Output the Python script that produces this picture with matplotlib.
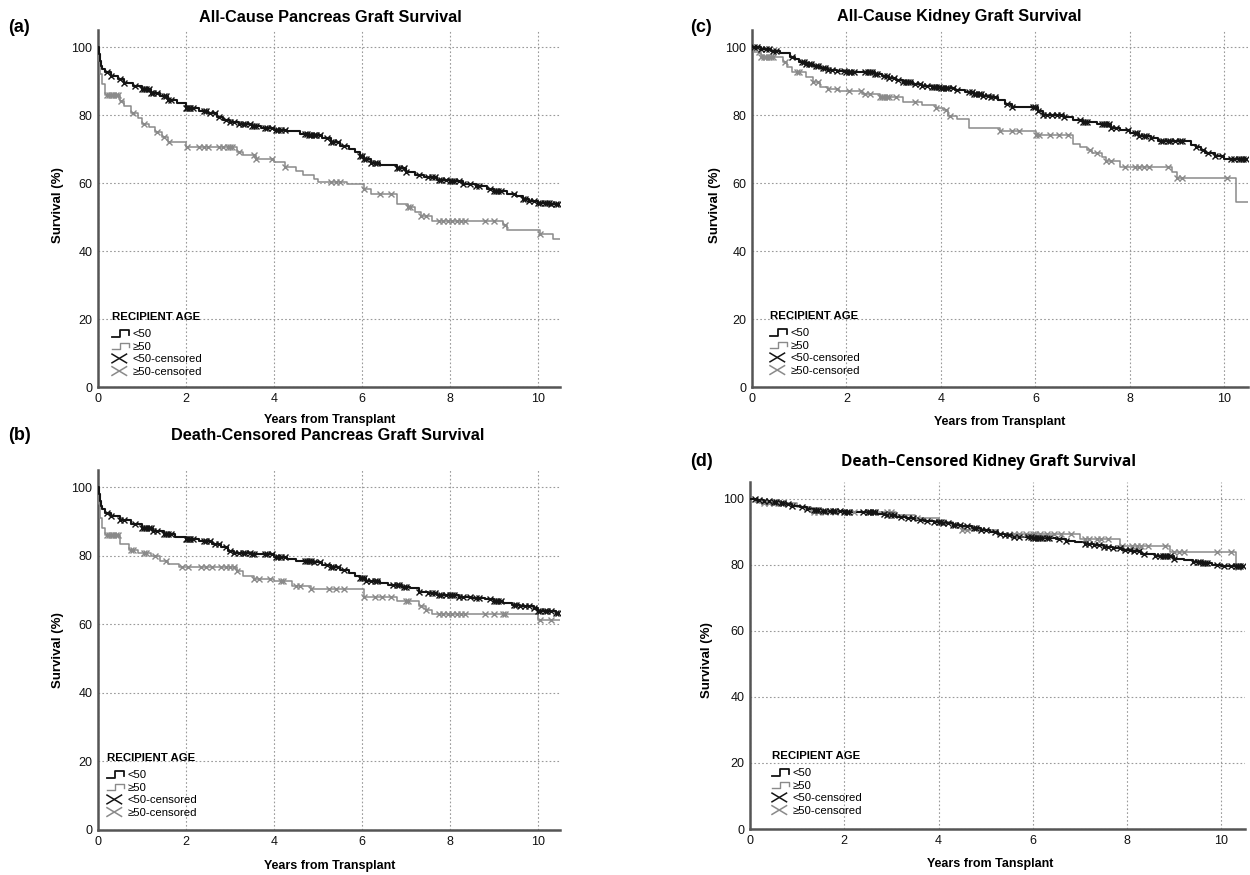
import numpy as np
import matplotlib
matplotlib.use('Agg')
import matplotlib.pyplot as plt
from matplotlib.lines import Line2D
from matplotlib.legend_handler import HandlerBase

plt.rcParams['font.family'] = ['Liberation Sans', 'DejaVu Sans']

# ---------------- data ----------------
# (a) All-cause pancreas graft survival
a_lt50_t = [0, 0.02, 0.04, 0.07, 0.1, 0.15, 0.3, 0.45, 0.6, 0.8, 1.0, 1.2, 1.4, 1.6, 1.8, 2.0, 2.3, 2.5, 2.7,
            2.85, 3.0, 3.2, 3.5, 3.7, 4.0, 4.3, 4.6, 4.8, 5.1, 5.3, 5.5, 5.7, 5.85, 5.95, 6.05, 6.2, 6.4, 6.8,
            7.0, 7.2, 7.4, 7.7, 8.0, 8.3, 8.6, 8.85, 9.0, 9.3, 9.5, 9.65, 9.8, 10.0, 10.3]
a_lt50_s = [100, 98, 96, 94.5, 93.5, 92.5, 91.5, 90.5, 89.5, 88.5, 87.5, 86.5, 85.5, 84.5, 83.5, 82, 81.2, 80.5,
            79.5, 78.5, 78, 77.3, 76.8, 76.3, 75.7, 75.2, 74.5, 74.2, 73.2, 72.2, 71, 70, 69, 68, 67, 66, 65.3,
            64.3, 63.3, 62.3, 61.7, 61, 60.5, 59.8, 59.2, 58.2, 57.6, 56.8, 56.2, 55.3, 54.8, 54.2, 53.7]
a_ge50_t = [0, 0.02, 0.05, 0.1, 0.15, 0.5, 0.6, 0.75, 0.9, 1.0, 1.15, 1.3, 1.45, 1.6, 2.0, 3.15, 3.3, 3.6, 4.0,
            4.25, 4.5, 4.65, 4.9, 5.0, 5.65, 6.05, 6.2, 6.8, 7.05, 7.2, 7.35, 7.6, 9.2, 9.3, 10.05, 10.35]
a_ge50_s = [100, 96, 92, 89, 86, 84, 82.5, 80.5, 79, 77.5, 76.5, 75, 73.5, 72.2, 70.6, 69.2, 68.2, 67.2, 66.2,
            64.8, 63.5, 62.4, 61.3, 60.4, 59.6, 58.3, 56.9, 53.8, 52.8, 51.5, 50.2, 48.8, 47.5, 46.1, 44.9, 43.5]
a_lt50_cens = [0.2, 0.3, 0.5, 0.6, 0.85, 1.0, 1.05, 1.1, 1.15, 1.2, 1.25, 1.35, 1.5, 1.55, 1.6, 1.65, 2.0, 2.03,
               2.06, 2.1, 2.15, 2.4, 2.45, 2.55, 2.65, 2.75, 2.9, 3.0, 3.1, 3.2, 3.3, 3.35, 3.45, 3.5, 3.55, 3.6,
               3.8, 3.85, 3.95, 4.05, 4.1, 4.15, 4.25, 4.7, 4.75, 4.8, 4.85, 4.9, 4.95, 5.05, 5.2, 5.3, 5.35,
               5.45, 5.6, 5.95, 6.0, 6.05, 6.1, 6.2, 6.3, 6.35, 6.8, 6.85, 6.95, 7.0, 7.3, 7.5, 7.6, 7.65, 7.75,
               7.8, 7.9, 8.0, 8.05, 8.1, 8.2, 8.3, 8.45, 8.6, 8.65, 8.9, 9.0, 9.05, 9.1, 9.15, 9.45, 9.65, 9.7,
               9.8, 9.9, 10.0, 10.05, 10.15, 10.2, 10.25, 10.3, 10.4, 10.45]
a_ge50_cens = [0.2, 0.25, 0.3, 0.35, 0.4, 0.45, 0.52, 0.8, 1.05, 1.35, 1.5, 1.62, 2.02, 2.3, 2.4, 2.5, 2.75, 2.85,
               2.95, 3.0, 3.05, 3.2, 3.55, 3.6, 3.95, 4.25, 5.3, 5.4, 5.5, 6.05, 6.4, 6.65, 7.05, 7.1, 7.35,
               7.45, 7.75, 7.85, 7.95, 8.05, 8.15, 8.25, 8.35, 8.8, 9.0, 9.25, 10.05]

# (b) Death-censored pancreas graft survival
b_lt50_t = [0, 0.02, 0.04, 0.07, 0.1, 0.15, 0.3, 0.5, 0.75, 1.0, 1.25, 1.5, 1.75, 2.0, 2.3, 2.6, 2.8, 2.95, 3.1,
            3.5, 4.0, 4.3, 4.5, 4.9, 5.1, 5.3, 5.5, 5.7, 5.85, 5.95, 6.1, 6.4, 6.6, 6.9, 7.1, 7.3, 7.5, 7.7,
            8.2, 8.5, 8.8, 9.0, 9.2, 9.4, 9.6, 9.9, 10.0, 10.4]
b_lt50_s = [100, 98, 96, 94.5, 93.5, 92.5, 91.5, 90.5, 89.3, 88, 87.2, 86.4, 85.5, 84.8, 84.2, 83.5, 82.5, 81.5,
            80.8, 80.5, 79.6, 79.0, 78.5, 78.2, 77.3, 76.6, 75.8, 75, 74.2, 73.5, 72.5, 72.0, 71.5, 71.0, 70.5,
            69.5, 69, 68.4, 68.0, 67.8, 67.4, 66.8, 66.1, 65.6, 65.2, 64.8, 64.0, 63.3]
b_ge50_t = [0, 0.02, 0.05, 0.1, 0.15, 0.5, 0.7, 0.9, 1.2, 1.4, 1.6, 1.85, 3.15, 3.3, 3.55, 4.0, 4.4, 4.85, 6.05,
            6.8, 7.3, 7.45, 7.6, 10.0]
b_ge50_s = [100, 95, 91, 88, 86.1, 83.4, 81.8, 80.8, 79.8, 78.4, 77.5, 76.7, 75.4, 74.0, 73.2, 72.5, 71.2, 70.2,
            68.1, 66.9, 65.4, 64.2, 62.9, 61.2]
b_lt50_cens = [0.2, 0.3, 0.5, 0.6, 0.85, 1.0, 1.05, 1.1, 1.15, 1.2, 1.25, 1.35, 1.5, 1.55, 1.6, 1.65, 2.0, 2.03,
               2.06, 2.1, 2.15, 2.4, 2.45, 2.55, 2.65, 2.75, 2.9, 3.0, 3.1, 3.2, 3.3, 3.35, 3.45, 3.5, 3.55, 3.8,
               3.85, 3.95, 4.05, 4.1, 4.15, 4.25, 4.7, 4.75, 4.8, 4.85, 4.9, 5.05, 5.2, 5.3, 5.35, 5.45, 5.6,
               5.95, 6.0, 6.05, 6.1, 6.2, 6.3, 6.35, 6.7, 6.8, 6.85, 6.95, 7.0, 7.3, 7.5, 7.6, 7.65, 7.75, 7.8,
               7.9, 8.0, 8.05, 8.1, 8.2, 8.3, 8.45, 8.6, 8.65, 8.9, 9.0, 9.05, 9.1, 9.15, 9.45, 9.5, 9.6, 9.7,
               9.8, 9.9, 10.0, 10.05, 10.15, 10.2, 10.3, 10.4, 10.45]
b_ge50_cens = [0.2, 0.25, 0.3, 0.35, 0.4, 0.45, 0.75, 0.8, 1.05, 1.1, 1.3, 1.55, 1.9, 2.05, 2.35, 2.45, 2.6, 2.8,
               2.9, 3.0, 3.1, 3.15, 3.55, 3.65, 3.9, 4.15, 4.2, 4.5, 4.6, 4.85, 5.25, 5.4, 5.6, 6.05, 6.3, 6.45,
               6.65, 7.0, 7.05, 7.35, 7.45, 7.75, 7.85, 7.95, 8.05, 8.15, 8.25, 8.35, 8.8, 9.0, 9.2, 9.25,
               10.05, 10.3]

# (c) All-cause kidney graft survival
c_lt50_t = [0, 0.2, 0.4, 0.6, 0.8, 0.9, 1.0, 1.15, 1.3, 1.45, 1.6, 1.8, 2.0, 2.6, 2.75, 2.9, 3.05, 3.2, 3.4,
            3.6, 3.8, 4.0, 4.3, 4.5, 4.7, 4.9, 5.05, 5.2, 5.35, 5.5, 6.05, 6.15, 6.6, 6.8, 7.0, 7.3, 7.6, 7.8,
            8.0, 8.2, 8.45, 8.6, 9.3, 9.4, 9.5, 9.6, 9.8, 10.0]
c_lt50_s = [100, 99.3, 98.8, 98.2, 97.2, 96.5, 95.6, 95.0, 94.3, 93.7, 93.1, 92.8, 92.5, 92.2, 91.6, 91.0, 90.4,
            89.8, 89.2, 88.6, 88.2, 87.9, 87.3, 86.8, 86.3, 85.7, 85.2, 84.3, 83.3, 82.4, 81.3, 79.9, 79.4,
            78.5, 78.0, 77.4, 76.3, 75.6, 74.7, 73.9, 73.2, 72.3, 71.3, 70.6, 69.6, 68.8, 67.8, 67.1]
c_ge50_t = [0, 0.05, 0.2, 0.65, 0.75, 0.85, 1.15, 1.3, 1.45, 1.6, 1.85, 2.33, 2.7, 3.2, 3.6, 3.9, 4.05, 4.15,
            4.35, 4.6, 5.24, 6.02, 6.8, 6.95, 7.1, 7.2, 7.4, 7.5, 7.8, 8.9, 9.0, 10.24]
c_ge50_s = [100, 98.5, 97.0, 95.5, 94.0, 92.5, 91.2, 89.8, 88.3, 87.6, 87.0, 86.2, 85.2, 83.9, 83.0, 82.0, 81.4,
            79.8, 78.8, 76.1, 75.4, 74.0, 71.5, 70.5, 69.8, 68.8, 67.5, 66.4, 64.6, 63.1, 61.4, 54.4]
c_lt50_cens = [0.05, 0.1, 0.2, 0.3, 0.35, 0.45, 0.5, 0.85, 1.05, 1.1, 1.15, 1.2, 1.25, 1.35, 1.4, 1.5, 1.55, 1.6,
               1.7, 1.8, 1.95, 2.0, 2.05, 2.1, 2.15, 2.4, 2.45, 2.5, 2.55, 2.6, 2.65, 2.8, 2.85, 2.9, 3.0, 3.1,
               3.2, 3.25, 3.3, 3.35, 3.45, 3.55, 3.6, 3.7, 3.8, 3.85, 3.9, 3.95, 4.0, 4.05, 4.1, 4.15, 4.25,
               4.35, 4.6, 4.65, 4.7, 4.75, 4.8, 4.85, 4.9, 5.0, 5.05, 5.15, 5.4, 5.5, 5.95, 6.0, 6.05, 6.15,
               6.25, 6.35, 6.45, 6.55, 6.6, 6.95, 7.0, 7.05, 7.1, 7.4, 7.45, 7.5, 7.55, 7.6, 7.7, 7.95, 8.1,
               8.15, 8.2, 8.3, 8.35, 8.45, 8.65, 8.7, 8.8, 8.85, 8.95, 9.05, 9.1, 9.4, 9.55, 9.65, 9.8, 9.95,
               10.15, 10.2, 10.3, 10.35, 10.4, 10.45]
c_ge50_cens = [0.15, 0.2, 0.25, 0.3, 0.35, 0.4, 0.45, 0.7, 0.95, 1.0, 1.3, 1.4, 1.6, 1.8, 2.05, 2.3, 2.4, 2.5,
               2.7, 2.75, 2.8, 2.85, 2.9, 3.05, 3.45, 3.9, 4.1, 4.2, 5.24, 5.5, 5.65, 6.02, 6.08, 6.3, 6.5,
               6.7, 7.15, 7.3, 7.5, 7.6, 7.9, 8.1, 8.2, 8.3, 8.4, 8.8, 9.0, 9.1, 10.05]

# (d) Death-censored kidney graft survival
d_lt50_t = [0, 0.15, 0.3, 0.45, 0.6, 0.75, 0.9, 1.05, 1.2, 1.35, 1.5, 2.0, 2.5, 2.7, 2.9, 3.1, 3.3, 3.5, 3.7,
            3.9, 4.1, 4.3, 4.5, 4.7, 4.9, 5.1, 5.25, 5.4, 5.55, 6.0, 6.5, 6.7, 6.9, 7.1, 7.3, 7.5, 7.7, 7.9,
            8.1, 8.3, 8.6, 9.0, 9.2, 9.4, 9.6, 9.8, 10.0]
d_lt50_s = [100, 99.5, 99.1, 98.9, 98.6, 98.3, 97.8, 97.3, 96.8, 96.5, 96.2, 96.0, 95.8, 95.4, 95.0, 94.5, 94.0,
            93.6, 93.3, 93.0, 92.6, 92.1, 91.6, 91.0, 90.5, 89.9, 89.4, 88.9, 88.4, 88.0, 87.7, 87.2, 86.8,
            86.3, 85.8, 85.4, 85.0, 84.5, 84.0, 83.3, 82.6, 81.8, 81.4, 80.9, 80.5, 80.0, 79.5]
d_ge50_t = [0, 0.1, 0.2, 1.0, 1.3, 3.1, 3.5, 4.0, 4.3, 4.5, 5.25, 7.0, 7.85, 8.9, 10.3]
d_ge50_s = [100, 99.0, 98.5, 97.5, 96.0, 95.0, 94.0, 93.0, 92.0, 90.4, 89.2, 87.9, 85.7, 83.7, 79.3]
d_lt50_cens = [0.1, 0.2, 0.3, 0.4, 0.5, 0.55, 0.65, 0.7, 0.8, 0.9, 1.1, 1.2, 1.35, 1.4, 1.45, 1.55, 1.6, 1.7,
               1.75, 1.8, 1.9, 2.0, 2.05, 2.1, 2.4, 2.5, 2.55, 2.6, 2.65, 2.85, 2.9, 3.0, 3.05, 3.2, 3.35, 3.45,
               3.6, 3.75, 3.9, 4.0, 4.05, 4.1, 4.2, 4.3, 4.35, 4.45, 4.6, 4.75, 4.8, 4.9, 5.0, 5.2, 5.3, 5.4,
               5.5, 5.6, 5.7, 5.9, 5.95, 6.0, 6.05, 6.1, 6.15, 6.2, 6.3, 6.35, 6.55, 6.7, 7.1, 7.2, 7.3, 7.4,
               7.5, 7.6, 7.7, 7.85, 7.95, 8.05, 8.15, 8.25, 8.35, 8.6, 8.7, 8.75, 8.8, 8.85, 8.9, 9.0, 9.4,
               9.5, 9.55, 9.6, 9.65, 9.7, 9.9, 10.05, 10.2, 10.3, 10.35, 10.4, 10.45]
d_ge50_cens = [0.3, 0.4, 0.5, 0.6, 0.7, 1.35, 1.45, 1.6, 1.8, 2.2, 2.5, 2.9, 3.0, 3.55, 4.1, 4.5, 4.6, 5.6, 5.7,
               5.85, 6.0, 6.05, 6.15, 6.3, 6.45, 6.6, 6.8, 7.1, 7.2, 7.35, 7.45, 7.6, 7.9, 8.1, 8.2, 8.3, 8.45,
               8.8, 9.0, 9.1, 9.2, 9.9, 10.2, 10.35]

panel_letters = ['(a)', '(b)', '(c)', '(d)']
panel_titles = ['All-Cause Pancreas Graft Survival', 'Death-Censored Pancreas Graft Survival',
                'All-Cause Kidney Graft Survival', 'Death\u2013Censored Kidney Graft Survival']
x_labels = ['Years from Transplant', 'Years from Transplant', 'Years from Transplant', 'Years from Tansplant']
y_label = 'Survival (%)'
x_ticks = [0, 2, 4, 6, 8, 10]
y_ticks = [0, 20, 40, 60, 80, 100]
legend_title = 'RECIPIENT AGE'
legend_labels = ['<50', '\u226550', '<50-censored', '\u226550-censored']

BLACK = '#141414'
GRAY = '#8a8a8a'

W, H = 1250, 875
fig = plt.figure(figsize=(W / 100, H / 100), dpi=100)


def rect(l, b, r, t):
    return [l / W, 1 - b / H, (r - l) / W, (b - t) / H]


class StepHandler(HandlerBase):
    def create_artists(self, legend, orig_handle, xdescent, ydescent, width, height, fontsize, trans):
        x0, y0 = -xdescent, -ydescent
        xs = [x0, x0 + 0.45 * width, x0 + 0.45 * width, x0 + width, x0 + width]
        ys = [y0 + 0.1 * height, y0 + 0.1 * height, y0 + 0.85 * height, y0 + 0.85 * height, y0 + 0.35 * height]
        return [Line2D(xs, ys, color=orig_handle.get_color(), lw=orig_handle.get_linewidth(), transform=trans)]


class CrossHandler(HandlerBase):
    def create_artists(self, legend, orig_handle, xdescent, ydescent, width, height, fontsize, trans):
        x0, y0 = -xdescent, -ydescent
        c = orig_handle.get_color()
        l1 = Line2D([x0, x0 + 0.85 * width], [y0, y0 + height], color=c, lw=1.1, transform=trans)
        l2 = Line2D([x0, x0 + 0.85 * width], [y0 + height, y0], color=c, lw=1.1, transform=trans)
        return [l1, l2]


def km_at(t, s, q):
    t = np.asarray(t)
    s = np.asarray(s)
    idx = np.searchsorted(t, q, side='right') - 1
    return s[np.clip(idx, 0, len(s) - 1)]


def draw(ax, t1, s1, t2, s2, c1, c2, leg_off, bw):
    for t, s, cens, col, lw, ms in [(t2, s2, c2, GRAY, 1.1, 4.5), (t1, s1, c1, BLACK, 1.5, 5)]:
        tt = list(t) + [10.5]
        ss = list(s) + [s[-1]]
        ax.step(tt, ss, where='post', color=col, lw=lw, zorder=3)
        ax.plot(cens, km_at(t, s, cens), linestyle='none', marker='x', color=col,
                markersize=ms, mew=1.0, zorder=4)
    ax.set_xlim(0, 10.5)
    ax.set_ylim(0, 105)
    ax.set_xticks(x_ticks)
    ax.set_yticks(y_ticks)
    ax.grid(True, color='#9a9a9a', linestyle=(0, (1.5, 2)), lw=0.8, zorder=1)
    ax.set_axisbelow(True)
    for sp in ['top', 'right']:
        ax.spines[sp].set_visible(False)
    for sp in ['left', 'bottom']:
        ax.spines[sp].set_color('#555555')
        ax.spines[sp].set_linewidth(1.8)
    ax.tick_params(length=0, labelsize=9, pad=4, colors='#111111')
    h = [Line2D([], [], color=BLACK, lw=1.3), Line2D([], [], color=GRAY, lw=1.0),
         Line2D([], [], color=BLACK), Line2D([], [], color=GRAY)]
    hm = {h[0]: StepHandler(), h[1]: StepHandler(), h[2]: CrossHandler(), h[3]: CrossHandler()}
    leg = ax.legend(h, legend_labels, handler_map=hm, loc='lower left',
                    bbox_to_anchor=(leg_off[0] / bw[0], leg_off[1] / bw[1]),
                    frameon=False, borderpad=0, borderaxespad=0, handlelength=1.5, handleheight=0.8,
                    handletextpad=0.3, labelspacing=0.2, title=legend_title,
                    title_fontproperties={'weight': 'bold', 'size': 8.2}, fontsize=8.2, alignment='left')
    leg._legend_box.sep = 5


axes_rects = [(98, 387, 560, 30), (98, 830, 560, 470), (752, 387, 1248, 30), (750, 829, 1245, 482)]
data = [(a_lt50_t, a_lt50_s, a_ge50_t, a_ge50_s, a_lt50_cens, a_ge50_cens),
        (b_lt50_t, b_lt50_s, b_ge50_t, b_ge50_s, b_lt50_cens, b_ge50_cens),
        (c_lt50_t, c_lt50_s, c_ge50_t, c_ge50_s, c_lt50_cens, c_ge50_cens),
        (d_lt50_t, d_lt50_s, d_ge50_t, d_ge50_s, d_lt50_cens, d_ge50_cens)]
leg_offsets = [(14, 10), (9, 12), (18, 11), (22, 13)]
letter_pos = [(8, 27), (8, 436), (690, 27), (690, 462)]
title_pos = [(330, 17), (328, 436), (959, 17), (989, 462)]
ylabel_pos = [(58, 205), (58, 650), (715, 205), (707, 660)]
xlabel_pos = [(330, 420), (330, 866), (1000, 422), (990, 864)]

for i, (l, b, r, t) in enumerate(axes_rects):
    ax = fig.add_axes(rect(l, b, r, t))
    t1, s1, t2, s2, c1, c2 = data[i]
    draw(ax, t1, s1, t2, s2, c1, c2, leg_offsets[i], (r - l, b - t))
    lx, ly = letter_pos[i]
    fig.text(lx / W, 1 - ly / H, panel_letters[i], fontsize=13, fontweight='bold', ha='left', va='center')
    tx, ty = title_pos[i]
    if i == 3:
        fig.text(tx / W, 1 - ty / H, panel_titles[i], fontsize=11.2, fontweight='bold',
                 family=['Open Sans', 'DejaVu Sans'], ha='center', va='center')
    else:
        fig.text(tx / W, 1 - ty / H, panel_titles[i], fontsize=11.7, fontweight='bold', ha='center', va='center')
    yx, yy = ylabel_pos[i]
    fig.text(yx / W, 1 - yy / H, y_label, fontsize=9.5, fontweight='bold', rotation=90, ha='center', va='center')
    xx, xy = xlabel_pos[i]
    fig.text(xx / W, 1 - xy / H, x_labels[i], fontsize=9, fontweight='bold', ha='center', va='center')

fig.savefig('out.png', dpi=100, facecolor='white')
